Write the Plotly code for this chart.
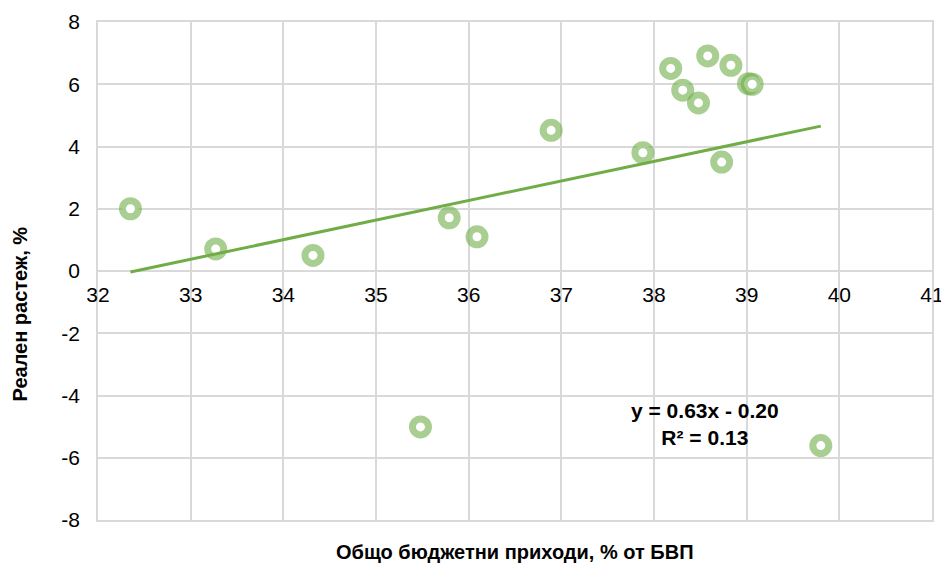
import numpy as np
import plotly.graph_objects as go

# Общо бюджетни приходи (% от БВП) и реален растеж (%)
revenue = [32.35, 33.27, 34.32, 35.48, 35.79, 36.09, 36.89, 37.88, 38.18,
           38.31, 38.48, 38.58, 38.73, 38.83, 39.02, 39.06, 39.80]
growth = [2.00, 0.71, 0.50, -5.01, 1.71, 1.10, 4.52, 3.80, 6.51,
          5.81, 5.40, 6.91, 3.50, 6.61, 6.02, 6.00, -5.61]

x_ticks = [32, 33, 34, 35, 36, 37, 38, 39, 40, 41]
y_ticks = [-8, -6, -4, -2, 0, 2, 4, 6, 8]

equation_text = "y = 0.63x - 0.20<br>R² = 0.13"
x_title = "Общо бюджетни приходи, % от БВП"
y_title = "Реален растеж, %"

# Linear trend fitted on the data
slope, intercept = np.polyfit(revenue, growth, 1)
trend_x = [min(revenue), max(revenue)]
trend_y = [slope * v + intercept for v in trend_x]

GRID = "#D9D9D9"
GREEN = "#70AD47"
FONT = "Liberation Sans, Arial, sans-serif"

fig = go.Figure()

fig.add_trace(go.Scatter(
    x=revenue, y=growth, mode="markers",
    marker=dict(symbol="circle", size=16, color="white",
                line=dict(color="rgba(112,173,71,0.6)", width=7)),
    showlegend=False, hoverinfo="x+y",
))

fig.add_trace(go.Scatter(
    x=trend_x, y=trend_y, mode="lines", xaxis="x2",
    line=dict(color=GREEN, width=3),
    showlegend=False, hoverinfo="skip",
))

fig.update_layout(
    width=941, height=563,
    margin=dict(l=98, r=9, t=22, b=43, autoexpand=False),
    paper_bgcolor="white", plot_bgcolor="white",
    font=dict(family=FONT, size=21, color="#000000"),
    xaxis=dict(
        range=[32, 41], tickvals=x_ticks, showticklabels=False,
        showgrid=True, gridcolor=GRID, gridwidth=1.5, zeroline=False,
        showline=True, linecolor=GRID, linewidth=1.5, mirror=True,
        automargin=False,
    ),
    xaxis2=dict(
        range=[32, 41], matches="x", overlaying="x", anchor="free",
        position=0.5, side="bottom", tickvals=x_ticks,
        ticktext=[str(v) for v in x_ticks], showgrid=False,
        zeroline=False, showline=False, ticks="",
        ticklabelstandoff=9, automargin=False, ticklabeloverflow="allow",
        tickfont=dict(family=FONT, size=21, color="#000000"),
    ),
    yaxis=dict(
        range=[-8, 8], tickvals=y_ticks,
        ticktext=[str(v) for v in y_ticks],
        showgrid=True, gridcolor=GRID, gridwidth=1.5, zeroline=False,
        showline=True, linecolor=GRID, linewidth=1.5, mirror=True,
        ticks="", ticklabelstandoff=12, automargin=False,
        tickfont=dict(family=FONT, size=21, color="#000000"),
    ),
    annotations=[
        dict(text=equation_text, x=38.55, y=-4.93, xref="x", yref="y",
             showarrow=False, align="center",
             font=dict(family=FONT, size=21, color="#000000", weight="bold")),
        dict(text="<b>" + x_title + "</b>", x=0.5, y=-0.064,
             xref="paper", yref="paper", xanchor="center", yanchor="middle",
             showarrow=False,
             font=dict(family=FONT, size=20, color="#000000")),
        dict(text="<b>" + y_title + "</b>", x=-0.094, y=0.414,
             xref="paper", yref="paper", xanchor="center", yanchor="middle",
             textangle=-90, showarrow=False,
             font=dict(family=FONT, size=20, color="#000000")),
    ],
)

fig.write_html("out.html")
